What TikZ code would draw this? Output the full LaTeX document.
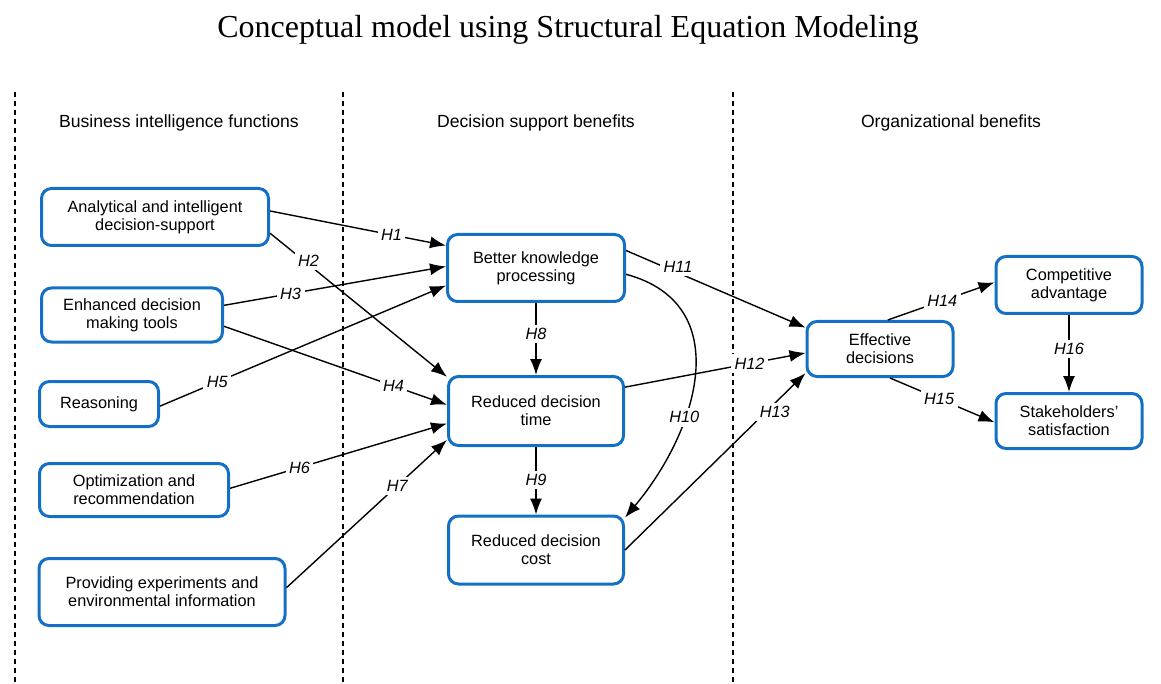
\documentclass[tikz,border=0pt]{standalone}
\usepackage{fontspec}
\setmainfont{Liberation Sans}
\newfontfamily\titlefont{Liberation Serif}
\usetikzlibrary{arrows.meta}
\definecolor{boxblue}{RGB}{20,112,196}

\begin{document}
\begin{tikzpicture}[x=1pt,y=-1pt,
    box/.style={draw=boxblue,line width=3pt,rounded corners=10pt,align=center,
      font=\fontsize{16.3}{18}\selectfont},
    hyp/.style={fill=white,inner sep=3.5pt,font=\fontsize{16.3}{18}\selectfont\itshape},
    head/.style={font=\fontsize{17.6}{20}\selectfont},
    sep/.style={line width=1.3pt,dash pattern=on 5pt off 4pt},
    conn/.style={->,line width=1.4pt},
    >={Latex[length=16pt,width=12pt]}]
    \useasboundingbox (0,0) rectangle (1161,684);
    \node[font=\titlefont\fontsize{32}{36}\selectfont] (title) at (568,30)
      {Conceptual model using Structural Equation Modeling};
    % columns
    \draw[sep] (15,92) -- (15,684);
    \draw[sep] (343,92) -- (343,684);
    \draw[sep] (733,92) -- (733,684);
    \node[head] (bif) at (179,123) {Business intelligence functions};
    \node[head] (dsb) at (536,123) {Decision support benefits};
    \node[head] (orb) at (951,123) {Organizational benefits};
    % functions
    \node[box,minimum width=227,minimum height=57] (ai) at (155,217) {Analytical and intelligent\\decision-support};
    \node[box,minimum width=181,minimum height=54] (edm) at (132,315) {Enhanced decision\\making tools};
    \node[box,minimum width=119,minimum height=45] (rea) at (99,404) {Reasoning};
    \node[box,minimum width=189,minimum height=53] (opt) at (134,490) {Optimization and\\recommendation};
    \node[box,minimum width=246,minimum height=67] (pee) at (162,592) {Providing experiments and\\environmental information};
    % decision support
    \node[box,minimum width=177,minimum height=67] (bkp) at (536,268) {Better knowledge\\processing};
    \node[box,minimum width=175,minimum height=69] (rdt) at (536,411) {Reduced decision\\time};
    \node[box,minimum width=175,minimum height=68] (rdc) at (536,550) {Reduced decision\\cost};
    % organization
    \node[box,minimum width=146,minimum height=55] (ed) at (880,349) {Effective\\decisions};
    \node[box,minimum width=146,minimum height=57] (ca) at (1069,285) {Competitive\\advantage};
    \node[box,minimum width=146,minimum height=55] (ss) at (1069,421) {Stakeholders'\\satisfaction};
    % hypotheses
    \draw[conn] (ai.3) -- node[hyp,pos=.69] {H1} (bkp.166);
    \draw[conn] (ai.-8) -- node[hyp,pos=.19,xshift=5pt] {H2} (rdt.159);
    \draw[conn] (edm.6) -- node[hyp,pos=.30] {H3} (bkp.179);
    \draw[conn] (edm.-7) -- node[hyp,pos=.76] {H4} (rdt.176);
    \draw[conn] (rea.-2) -- node[hyp,pos=.20] {H5} (bkp.-169);
    \draw[conn] (opt.1) -- node[hyp,pos=.32] {H6} (rdt.-172);
    \draw[conn] (pee.2) -- node[hyp,pos=.69] {H7} (rdt.-162);
    \draw[conn] (bkp.south) -- node[hyp,pos=.43] {H8} (rdt.north);
    \draw[conn] (rdt.south) -- node[hyp,pos=.49] {H9} (rdc.north);
    \draw[conn] (bkp.-4) to[out=-15,in=50,looseness=1.2] node[hyp,pos=.65] {H10} (rdc.20);
    \draw[conn] (bkp.11) -- node[hyp,pos=.29,yshift=6pt] {H11} (ed.164);
    \draw[conn] (rdt.15) -- node[hyp,pos=.69] {H12} (ed.-177);
    \draw[conn] (rdc.east) -- node[hyp,pos=.78,xshift=9pt] {H13} (ed.-162);
    \draw[conn] (ed.75) -- node[hyp,pos=.51] {H14} (ca.178);
    \draw[conn] (ed.-71) -- node[hyp,pos=.47] {H15} (ss.-179);
    \draw[conn] (ca.south) -- node[hyp,pos=.44] {H16} (ss.north);
\end{tikzpicture}
\end{document}
